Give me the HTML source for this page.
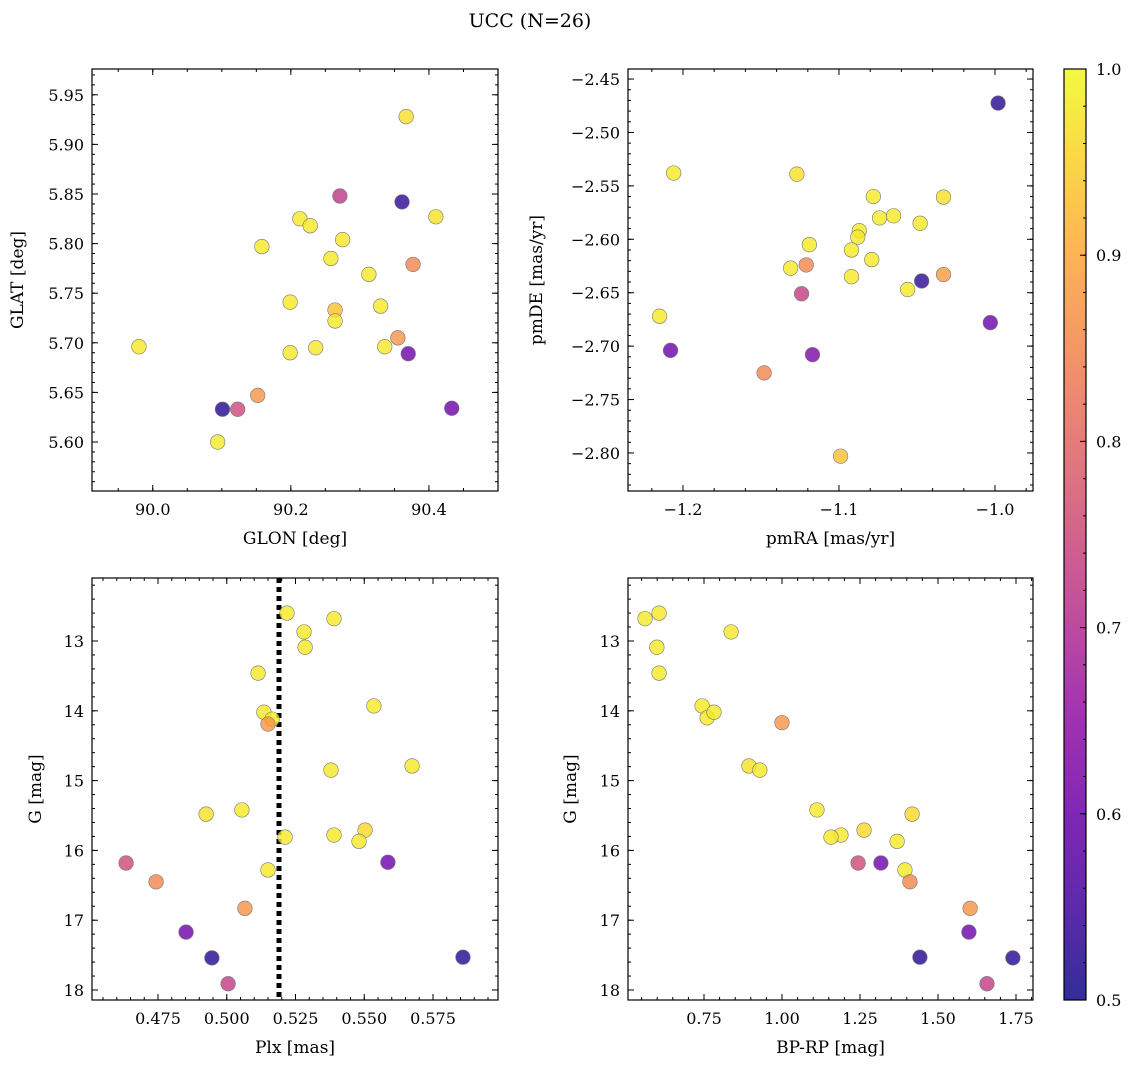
<!DOCTYPE html>
<html><head><meta charset="utf-8">
<style>
html,body{margin:0;padding:0;background:#fff;}
svg text{font-family:"DejaVu Serif","Liberation Serif",serif;fill:#000;}
</style></head>
<body>
<svg id="fig" width="1136" height="1068" xmlns="http://www.w3.org/2000/svg">
<text x="530" y="27" font-size="19" text-anchor="middle">UCC (N=26)</text>
</svg>
<script>
// Panel 1: GLON vs GLAT
const glon1=[90.367,90.271,90.361,90.410,90.213,90.228,90.158,90.275,90.258,90.377,90.313,90.199,90.264,90.330,90.264,89.980,90.355,90.199,90.236,90.336,90.370,90.152,90.101,90.123,90.433,90.094];
const glat1=[5.928,5.848,5.842,5.827,5.825,5.818,5.797,5.804,5.785,5.779,5.769,5.741,5.733,5.737,5.722,5.696,5.705,5.690,5.695,5.696,5.689,5.647,5.633,5.633,5.634,5.600];
const prob1=[0.97,0.72,0.53,0.97,0.98,0.98,0.98,0.98,0.98,0.85,0.98,0.98,0.93,0.98,0.98,0.98,0.87,0.98,0.98,0.98,0.6,0.87,0.52,0.75,0.6,0.98];
// Panel 2: pmRA vs pmDE
const pmra2=[-0.998,-1.206,-1.127,-1.078,-1.033,-1.074,-1.065,-1.087,-1.048,-1.088,-1.119,-1.092,-1.131,-1.121,-1.079,-1.092,-1.033,-1.047,-1.056,-1.124,-1.215,-1.003,-1.208,-1.117,-1.148,-1.099];
const pmde2=[-2.4725,-2.538,-2.539,-2.560,-2.5605,-2.580,-2.578,-2.592,-2.585,-2.598,-2.605,-2.610,-2.627,-2.624,-2.619,-2.635,-2.633,-2.639,-2.647,-2.651,-2.672,-2.678,-2.704,-2.708,-2.725,-2.803];
const prob2=[0.52,0.98,0.97,0.98,0.97,0.98,0.98,0.98,0.98,0.98,0.98,0.98,0.98,0.85,0.98,0.98,0.88,0.53,0.98,0.73,0.98,0.6,0.6,0.62,0.85,0.93];
// Panel 3: Plx vs G
const plx3=[0.5219,0.5390,0.5281,0.5285,0.5114,0.5535,0.5135,0.5165,0.5150,0.5674,0.5379,0.5055,0.4925,0.5503,0.5390,0.5212,0.5481,0.4634,0.5586,0.5150,0.4743,0.5066,0.4852,0.4946,0.5859,0.5005];
const g3=[12.60,12.68,12.87,13.09,13.46,13.93,14.02,14.12,14.19,14.79,14.85,15.42,15.48,15.71,15.78,15.81,15.87,16.18,16.17,16.28,16.45,16.83,17.17,17.54,17.53,17.91];
const prob3=[0.98,0.98,0.98,0.98,0.98,0.98,0.98,0.98,0.87,0.98,0.98,0.98,0.97,0.96,0.98,0.98,0.98,0.75,0.6,0.98,0.85,0.87,0.6,0.52,0.52,0.73];
const plxLine=[0.519];
// Panel 4: BP-RP vs G
const bprp4=[0.561,0.606,0.599,0.606,0.837,0.744,0.760,0.782,1.000,0.894,0.929,1.112,1.417,1.263,1.189,1.157,1.369,1.244,1.317,1.394,1.410,1.603,1.599,1.442,1.740,1.657];
const g4=[12.68,12.60,13.09,13.46,12.87,13.93,14.10,14.02,14.17,14.79,14.85,15.42,15.48,15.71,15.78,15.81,15.87,16.18,16.18,16.28,16.45,16.83,17.17,17.53,17.54,17.91];
const prob4=[0.98,0.98,0.98,0.98,0.98,0.98,0.98,0.98,0.87,0.97,0.98,0.98,0.96,0.96,0.98,0.98,0.98,0.75,0.6,0.98,0.85,0.87,0.6,0.52,0.52,0.73];
// Colorbar ticks
const cbTicks=["0.5","0.6","0.7","0.8","0.9","1.0"];

const NS="http://www.w3.org/2000/svg";
const fig=document.getElementById('fig');
function mk(tag,attrs,parent){const e=document.createElementNS(NS,tag);for(const k in attrs)e.setAttribute(k,attrs[k]);(parent||fig).appendChild(e);return e;}
const stops=[[13,8,135],[65,4,157],[106,0,168],[143,13,164],[177,42,144],[204,71,120],[225,100,98],[242,132,75],[252,166,54],[252,206,37],[240,249,33]];
function plasma(t){t=Math.max(0,Math.min(1,t));const f=t*10,i=Math.min(9,Math.floor(f)),r=f-i;const a=stops[i],b=stops[i+1];return 'rgb('+a.map((v,k)=>Math.round(v+(b[k]-v)*r)).join(',')+')';}
function cmap(p){return plasma((p-0.5)/0.5);}
function fmt(v,d){let s=v.toFixed(d);if(s.startsWith('-'))s='\u2212'+s.slice(1);return s;}

function panel(o){
  const g=mk('g',{});
  
  
  const {L,T,R,B}=o;
  const sx=v=>L+(v-o.x0)/(o.x1-o.x0)*(R-L);
  const sy=v=>o.yinv? T+(v-o.y0)/(o.y1-o.y0)*(B-T) : B-(v-o.y0)/(o.y1-o.y0)*(B-T);
  const eps=1e-9;
  function ticksX(step,len){for(let v=Math.ceil(o.x0/step-eps)*step;v<=o.x1+eps;v+=step){const x=sx(v);mk('line',{x1:x,x2:x,y1:B,y2:B-len,stroke:'#000','stroke-width':1},g);mk('line',{x1:x,x2:x,y1:T,y2:T+len,stroke:'#000','stroke-width':1},g);}}
  function ticksY(step,len){const lo=Math.min(o.y0,o.y1),hi=Math.max(o.y0,o.y1);for(let v=Math.ceil(lo/step-eps)*step;v<=hi+eps;v+=step){const y=sy(v);mk('line',{x1:L,x2:L+len,y1:y,y2:y,stroke:'#000','stroke-width':1},g);mk('line',{x1:R,x2:R-len,y1:y,y2:y,stroke:'#000','stroke-width':1},g);}}
  ticksX(o.xminor,3);ticksX(o.xmajor,6);ticksY(o.yminor,3);ticksY(o.ymajor,6);
  for(let v=Math.ceil(o.x0/o.xmajor-eps)*o.xmajor;v<=o.x1+eps;v+=o.xmajor){const t=mk('text',{x:sx(v),y:B+24,'font-size':16,'text-anchor':'middle'},g);t.textContent=fmt(v,o.xdec);}
  const lo=Math.min(o.y0,o.y1),hi=Math.max(o.y0,o.y1);
  for(let v=Math.ceil(lo/o.ymajor-eps)*o.ymajor;v<=hi+eps;v+=o.ymajor){const t=mk('text',{x:L-8,y:sy(v)+6,'font-size':16,'text-anchor':'end'},g);t.textContent=fmt(v,o.ydec);}
  if(o.vline!==undefined){const l=mk('line',{x1:sx(o.vline),x2:sx(o.vline),y1:T,y2:B,stroke:'#000','stroke-width':5,'stroke-dasharray':'5,4'},g);}
  for(let i=0;i<o.xs.length;i++){
    const c=mk('circle',{cx:sx(o.xs[i]),cy:sy(o.ys[i]),r:7.3,fill:cmap(o.ps[i]),'fill-opacity':0.8,stroke:'#777','stroke-width':0.6},g);
    
    
  }
  mk('rect',{x:L,y:T,width:R-L,height:B-T,fill:'none',stroke:'#000','stroke-width':1.2},g);
  const xl=mk('text',{x:(L+R)/2,y:B+53,'font-size':17,'text-anchor':'middle'},g);xl.textContent=o.xlabel;
  
  const yl=mk('text',{x:o.ylx,y:(T+B)/2,'font-size':17,'text-anchor':'middle',transform:'rotate(-90 '+o.ylx+' '+(T+B)/2+')'},g);yl.textContent=o.ylabel;
  
}
panel({name:'glon-glat-panel',L:92,T:69,R:498,B:491,x0:89.912,x1:90.5,y0:5.5506,y1:5.976,xmajor:0.2,xminor:0.05,ymajor:0.05,yminor:0.01,xdec:1,ydec:2,xs:glon1,ys:glat1,ps:prob1,xlabel:'GLON [deg]',ylabel:'GLAT [deg]',ylx:23});
panel({name:'pm-panel',L:628,T:69,R:1033,B:491,x0:-1.2-55/1560,x1:-1.0+38/1560,y0:-2.8356,y1:-2.4406,xmajor:0.1,xminor:0.02,ymajor:0.05,yminor:0.01,xdec:1,ydec:2,xs:pmra2,ys:pmde2,ps:prob2,xlabel:'pmRA [mas/yr]',ylabel:'pmDE [mas/yr]',ylx:542});
panel({name:'plx-g-panel',L:92,T:578,R:498,B:1000,x0:0.475-66/2750,x1:0.475+340/2750,y0:13-63/69.8,y1:13+359/69.8,yinv:true,xmajor:0.025,xminor:0.005,ymajor:1,yminor:0.2,xdec:3,ydec:0,xs:plx3,ys:g3,ps:prob3,vline:plxLine[0],xlabel:'Plx [mas]',ylabel:'G [mag]',ylx:41});
panel({name:'cmd-panel',L:628,T:578,R:1033,B:1000,x0:0.75-76/312,x1:0.75+329/312,y0:13-63/69.8,y1:13+359/69.8,yinv:true,xmajor:0.25,xminor:0.05,ymajor:1,yminor:0.2,xdec:2,ydec:0,xs:bprp4,ys:g4,ps:prob4,xlabel:'BP-RP [mag]',ylabel:'G [mag]',ylx:576});

(function(){
  const L=1064,R=1086,T=69,B=1000;
  const g=mk('g',{});
  
  
  const defs=mk('defs',{},g);
  const lg=mk('linearGradient',{id:'cb',x1:0,y1:1,x2:0,y2:0},defs);
  for(let i=0;i<=20;i++){mk('stop',{offset:(i/20),'stop-color':plasma(i/20),'stop-opacity':0.85},lg);}
  mk('rect',{x:L,y:T,width:R-L,height:B-T,fill:'url(#cb)',stroke:'#000','stroke-width':1.2},g);
  const sy=v=>B-(v-0.5)/0.5*(B-T);
  for(let v=0.5;v<=1.0001;v+=0.02){mk('line',{x1:R,x2:R-3,y1:sy(v),y2:sy(v),stroke:'#000'},g);}
  cbTicks.forEach(s=>{const v=parseFloat(s),y=sy(v);mk('line',{x1:R,x2:R-6,y1:y,y2:y,stroke:'#000'},g);const t=mk('text',{x:R+10,y:y+6,'font-size':16},g);t.textContent=s;});
})();
</script>
</body></html>
